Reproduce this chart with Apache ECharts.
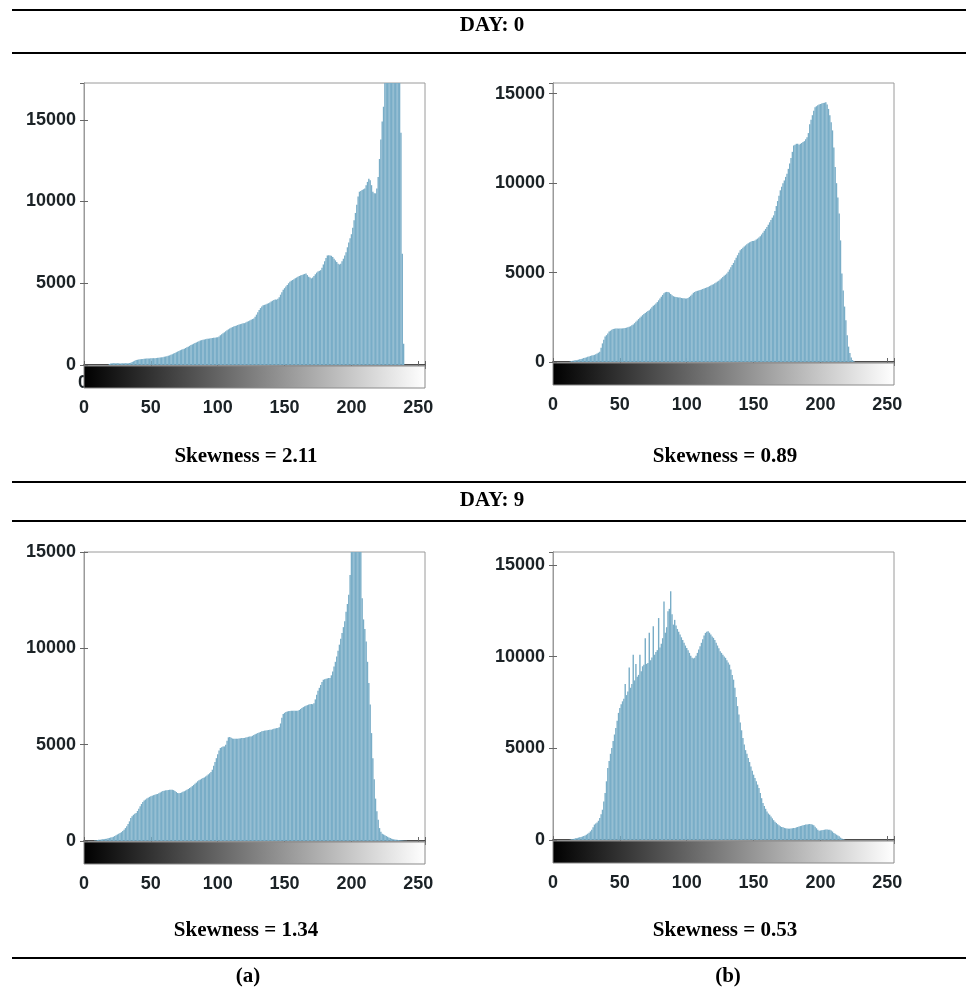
<!DOCTYPE html>
<html>
<head>
<meta charset="utf-8">
<title>Histograms</title>
<script src="https://cdn.jsdelivr.net/npm/echarts@6/dist/echarts.min.js"></script>
<style>
html, body { margin: 0; padding: 0; background: #fff; }
#myChart { width: 966px; height: 994px; }
</style>
</head>
<body>
<div id="myChart"></div>
<script>
// grey levels of the histogram bins
var levels = [];
for (var i = 0; i < 256; i++) levels.push(i);

// pixel counts per grey level
var day0a = [
    0,0,0,0,0,0,0,0,0,0,0,0,0,0,0,0,
    0,0,0,60,90,100,110,100,100,110,100,90,100,110,100,110,
    100,110,120,140,180,220,260,300,320,340,350,360,370,380,390,400,
    400,400,410,410,420,420,430,440,450,460,470,480,500,520,540,560,
    590,620,660,700,740,780,820,860,900,940,970,1000,1040,1080,1120,1170,
    1220,1260,1300,1340,1380,1420,1460,1500,1520,1540,1560,1580,1600,1610,1620,1640,
    1650,1660,1670,1690,1700,1750,1820,1880,1940,2000,2060,2120,2180,2230,2280,2320,
    2350,2380,2410,2440,2470,2500,2520,2550,2560,2600,2640,2680,2720,2770,2810,2850,
    2950,3080,3220,3360,3480,3580,3650,3680,3700,3740,3780,3830,3880,3930,3970,4000,
    4000,4050,4150,4300,4450,4600,4700,4800,4900,5000,5100,5150,5200,5250,5300,5350,
    5400,5450,5480,5500,5540,5570,5600,5500,5400,5350,5300,5350,5450,5550,5650,5720,
    5760,5800,5950,6150,6350,6550,6700,6720,6700,6680,6600,6500,6400,6300,6200,6150,
    6200,6350,6500,6700,6900,7200,7500,7750,8000,8400,8850,9300,9800,10300,10600,10650,
    10700,10750,10800,11000,11200,11400,11300,11000,10600,10500,10500,10800,11500,12600,13800,14900,
    15800,17500,19000,20500,21500,22000,22000,21500,21000,20500,19500,18500,17500,14200,6800,1300,
    0,0,0,0,0,0,0,0,0,0,0,0,0,0,0,0
];
var day0b = [
    0,0,0,0,0,0,0,0,0,0,0,0,0,30,60,75,
    90,100,110,130,150,170,190,220,240,260,290,310,340,360,380,400,
    430,470,520,580,800,1040,1250,1420,1500,1600,1700,1750,1800,1840,1860,1880,
    1880,1870,1880,1880,1880,1890,1900,1920,1950,1970,2000,2050,2100,2170,2250,2320,
    2400,2480,2550,2620,2680,2740,2800,2850,2900,2980,3060,3140,3200,3270,3350,3450,
    3550,3650,3750,3850,3900,3920,3920,3880,3800,3730,3680,3650,3630,3620,3610,3600,
    3580,3570,3560,3550,3550,3580,3640,3700,3780,3870,3920,3950,3980,4000,4020,4050,
    4080,4110,4140,4170,4200,4240,4280,4320,4350,4400,4450,4500,4550,4610,4680,4750,
    4820,4880,4950,5050,5170,5300,5420,5540,5690,5830,5970,6110,6250,6320,6390,6460,
    6520,6580,6640,6690,6730,6760,6770,6800,6850,6900,6960,7030,7130,7230,7340,7440,
    7550,7680,7810,7940,8070,8200,8450,8720,9000,9300,9600,9800,10000,10150,10350,10530,
    10800,11100,11400,11750,12100,12150,12200,12200,12150,12200,12250,12300,12350,12450,12570,12800,
    13300,13550,13800,14050,14250,14300,14350,14400,14430,14450,14480,14500,14530,14400,14150,13800,
    13400,12950,12000,10900,10000,9200,8300,6800,4950,4000,3100,2340,1500,860,500,250,
    110,40,0,0,0,0,0,0,0,0,0,0,0,0,0,0,
    0,0,0,0,0,0,0,0,0,0,0,0,0,0,0,0
];
var day9a = [
    0,0,0,0,0,0,0,0,20,30,50,60,70,80,90,100,
    110,120,140,160,180,200,220,260,300,340,380,420,460,520,580,670,
    760,880,1020,1200,1280,1360,1420,1450,1560,1680,1800,1920,2030,2100,2150,2200,
    2250,2290,2320,2350,2380,2400,2420,2440,2480,2520,2560,2590,2610,2630,2640,2650,
    2660,2660,2660,2640,2600,2540,2490,2480,2490,2520,2550,2580,2620,2660,2700,2750,
    2790,2850,2910,2970,3030,3100,3150,3190,3230,3270,3300,3350,3400,3460,3520,3580,
    3700,3900,4100,4300,4500,4700,4830,4870,4900,4910,5000,5200,5380,5400,5360,5320,
    5310,5310,5310,5310,5320,5330,5340,5350,5350,5370,5390,5410,5430,5430,5460,5500,
    5540,5570,5600,5630,5660,5690,5710,5730,5740,5750,5760,5770,5780,5800,5820,5840,
    5860,5870,5900,6100,6400,6590,6650,6700,6720,6740,6750,6760,6760,6760,6760,6760,
    6760,6800,6850,6900,6950,6990,7020,7050,7080,7100,7110,7100,7150,7350,7590,7800,
    7950,8100,8250,8370,8400,8420,8440,8460,8460,8600,8800,9060,9300,9580,9880,10190,
    10500,10800,11100,11400,11900,12300,12780,13800,15500,16500,17500,18000,18000,17500,16500,15500,
    12600,11500,11000,10360,9300,8200,7080,5600,4300,3200,2200,1540,1100,670,480,380,
    340,300,260,220,180,150,120,100,80,70,60,50,40,35,30,20,
    10,10,0,0,0,0,0,0,0,0,0,0,0,0,0,0
];
var day9b = [
    0,0,0,0,0,0,0,0,0,0,0,0,0,20,40,55,
    70,90,110,130,150,170,190,220,250,290,340,400,470,560,700,840,
    900,950,1050,1200,1400,1650,2100,2560,3200,3930,4300,4700,5020,5400,5750,6100,
    6500,6930,7200,7400,7560,7700,8500,7900,8100,9400,8300,8500,10100,8700,9600,8900,
    9000,10100,9200,9470,9550,11000,9600,9650,11300,9800,9950,11650,10100,10250,10350,12100,
    10500,10700,11000,13000,11300,11600,12470,12600,13560,12300,11740,12000,11700,11500,11350,11200,
    11050,10900,10750,10600,10470,10350,10200,10050,9930,9900,9930,10050,10200,10380,10560,10750,
    10950,11150,11290,11350,11380,11300,11200,11100,11020,10900,10750,10600,10450,10290,10200,10100,
    10000,9930,9800,9680,9560,9300,9000,8740,8300,7800,7300,6840,6400,5980,5560,5200,
    4900,4700,4470,4250,4000,3780,3560,3380,3200,3020,2840,2560,2280,2020,1850,1700,
    1560,1450,1380,1280,1180,1080,1000,930,860,800,750,710,690,660,640,630,
    620,620,630,640,650,660,690,710,730,760,780,800,820,840,850,860,
    870,860,840,800,720,640,560,510,520,530,550,560,570,570,560,560,
    520,460,380,340,290,240,200,130,80,40,20,0,0,0,0,0,
    0,0,0,0,0,0,0,0,0,0,0,0,0,0,0,0,
    0,0,0,0,0,0,0,0,0,0,0,0,0,0,0,0
];

var dayTitles = ['DAY: 0', 'DAY: 9'];
var skewTexts = ['Skewness = 2.11', 'Skewness = 0.89', 'Skewness = 1.34', 'Skewness = 0.53'];
var columnTags = ['(a)', '(b)'];
var yMax = [17250, 15600, 15000, 15700];

var panels = [
    { data: day0a, left: 84, top: 83, width: 341, height: 282 },
    { data: day0b, left: 553, top: 83, width: 341, height: 279 },
    { data: day9a, left: 84, top: 552, width: 341, height: 289 },
    { data: day9b, left: 553, top: 552, width: 341, height: 288 }
];

var labelFont = { fontFamily: 'Liberation Sans', fontWeight: 'bold', fontSize: 18, color: '#1b2226' };
var boxColor = '#9a9a9a';

var grid = [], xAxis = [], yAxis = [], series = [];

panels.forEach(function (p, k) {
    var g = grid.length;
    grid.push({ left: p.left, top: p.top, width: p.width, height: p.height, show: true, borderColor: boxColor, borderWidth: 1 });
    grid.push({ left: p.left, top: p.top + p.height + 1, width: p.width, height: 22 });

    var hx = xAxis.length;
    xAxis.push({
        type: 'value', gridIndex: g, min: 0, max: 255, interval: 50,
        axisLine: { lineStyle: { color: '#222', width: 1.5 } },
        axisTick: { inside: true, length: 4, lineStyle: { color: '#666' } },
        axisLabel: { show: false }, splitLine: { show: false }
    });
    xAxis.push({
        type: 'value', gridIndex: g, position: 'top', min: 0, max: 255, interval: 50,
        axisLine: { lineStyle: { color: boxColor } },
        axisTick: { inside: true, length: 4, lineStyle: { color: '#666' } },
        axisLabel: { show: false }, splitLine: { show: false }
    });
    var cx = xAxis.length;
    xAxis.push({
        type: 'value', gridIndex: g + 1, min: 0, max: 255, interval: 50,
        axisLine: { show: false },
        axisTick: { inside: true, length: 4, lineStyle: { color: '#666' } },
        axisLabel: Object.assign({ margin: 11, showMaxLabel: false }, labelFont),
        splitLine: { show: false }
    });

    var hy = yAxis.length;
    yAxis.push({
        type: 'value', gridIndex: g, min: 0, max: yMax[k], interval: 5000,
        axisLine: { show: true, lineStyle: { color: boxColor } },
        axisTick: { show: true, inside: true, length: 4, lineStyle: { color: '#666' } },
        axisLabel: Object.assign({
            margin: 8, showMaxLabel: yMax[k] % 5000 === 0,
            formatter: function (v) { return String(v); }
        }, labelFont),
        splitLine: { show: false }
    });
    yAxis.push({
        type: 'value', gridIndex: g, position: 'right', min: 0, max: yMax[k], interval: 5000,
        axisLine: { show: true, lineStyle: { color: boxColor } },
        axisTick: { show: true, inside: true, length: 4, lineStyle: { color: '#666' } },
        axisLabel: { show: false }, splitLine: { show: false }
    });
    var cy = yAxis.length;
    yAxis.push({ type: 'value', gridIndex: g + 1, min: 0, max: 1, show: false });

    series.push({
        type: 'bar',
        xAxisIndex: hx, yAxisIndex: hy,
        barWidth: 1.4,
        clip: true,
        silent: true,
        itemStyle: { color: '#79adc7' },
        data: p.data.map(function (v, i) { return [levels[i], v]; })
    });
    series.push({
        type: 'custom',
        xAxisIndex: cx, yAxisIndex: cy,
        z: 5,
        silent: true,
        data: [[0, 255]],
        renderItem: function (params, api) {
            var a = api.coord([api.value(0), 1]);
            var b = api.coord([api.value(1), 0]);
            return {
                type: 'rect',
                shape: { x: a[0], y: a[1], width: b[0] - a[0], height: b[1] - a[1] },
                style: {
                    fill: new echarts.graphic.LinearGradient(0, 0, 1, 0, [
                        { offset: 0, color: '#000' },
                        { offset: 1, color: '#fff' }
                    ]),
                    stroke: '#8a8a8a',
                    lineWidth: 1
                }
            };
        }
    });
});

var serif = 'bold 21px "Liberation Serif"';
function rule(y) {
    return { type: 'line', shape: { x1: 12, y1: y, x2: 966, y2: y }, style: { stroke: '#000', lineWidth: 2 } };
}
function caption(text, x, y) {
    return { type: 'text', x: x, y: y, style: { text: text, font: serif, fill: '#000', align: 'center', verticalAlign: 'middle' } };
}

var graphic = [
    rule(10), rule(53), rule(482), rule(521), rule(958),
    caption(dayTitles[0], 492, 26),
    caption(dayTitles[1], 492, 501),
    caption(skewTexts[0], 246, 457),
    caption(skewTexts[1], 725, 457),
    caption(skewTexts[2], 246, 931),
    caption(skewTexts[3], 725, 931),
    caption(columnTags[0], 248, 977),
    caption(columnTags[1], 728, 977),
    // stray colorbar tick label peeking out on the first panel
    { type: 'text', z: 0, x: 83, y: 383, style: { text: '0', font: 'bold 18px "Liberation Sans"', fill: '#1b2226', align: 'center', verticalAlign: 'middle' } }
];

var option = {
    backgroundColor: '#fff',
    animation: false,
    grid: grid,
    xAxis: xAxis,
    yAxis: yAxis,
    series: series,
    graphic: graphic
};

echarts.init(document.getElementById('myChart')).setOption(option);
</script>
</body>
</html>
